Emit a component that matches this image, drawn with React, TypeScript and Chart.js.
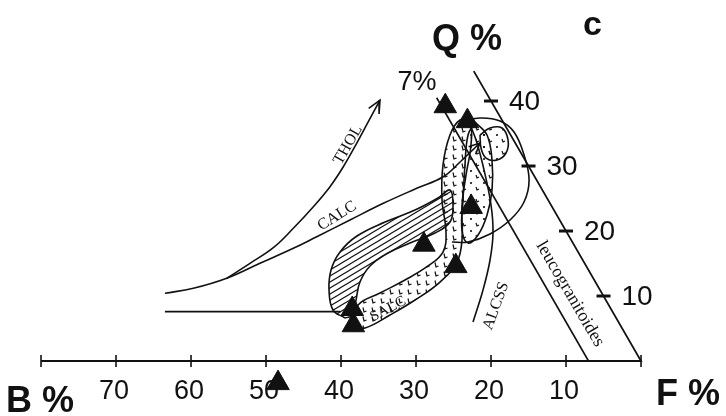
import React, { useEffect, useRef } from 'react';
import { Chart, registerables } from 'chart.js';

Chart.register(...registerables);

// ---- Axis ticks ----
const B_TICKS = [80, 70, 60, 50, 40, 30, 20, 10, 0];
const B_TICK_LABELS = ['', '70', '60', '50', '40', '30', '20', '10', ''];
const Q_TICKS = [40, 30, 20, 10];
const Q_TICK_LABELS = ['40', '30', '20', '10'];

// ---- Samples (B %, Q %) ----
const SAMPLE_B = [6.5, 4.7, 10.8, 20.0, 17.4, 34.5, 35.6, 50.1];
const SAMPLE_Q = [39.2, 36.9, 23.7, 17.9, 14.6, 8.0, 5.5, -3.4];

// ---- Frame and reference lines (B %, Q %) ----
const FRAME: [number, number][] = [[80, 0], [0, 0], [0, 44.6]];
const B7_LINE: [number, number][] = [[7, 0], [7, 40.5]];

// ---- Trends (B %, Q %) ----
const THOL_TREND: [number, number][] = [
  [48.88, 12.72], [44.62, 15.03], [40.31, 17.43], [36.15, 20.42], [31.82, 23.74],
  [28.06, 26.82], [24.75, 29.89], [21.17, 33.49], [17.95, 36.82], [14.73, 40.15],
];
const THOL_ARROW: [number, number][] = [[16.87, 38.88], [14.73, 40.15], [15.93, 38.0]];
const CALC_TREND: [number, number][] = [
  [58.26, 10.42], [54.1, 11.18], [48.88, 12.72], [43.29, 15.03], [37.69, 17.34],
  [33.68, 19.12], [27.96, 21.69], [22.23, 24.26], [16.62, 26.57], [12.19, 28.35],
  [8.82, 30.62], [4.7, 33.54],
];
const CALC_ARROW: [number, number][] = [[6.51, 32.95], [4.7, 33.54], [6.14, 31.82]];
const SALC_BASE: [number, number][] = [[59.68, 7.6], [36.3, 7.6]];
const ALCSS_TREND: [number, number][] = [
  [19.4, 6.0], [15.61, 10.92], [12.36, 15.54], [9.89, 19.69], [8.0, 24.0],
  [6.24, 29.38], [5.0, 34.0], [4.53, 37.08],
];

// ---- Fields (B %, Q %) ----
const HATCH_FIELD: [number, number][] = [
  [36.16, 6.62], [37.15, 7.85], [36.14, 10.92], [34.33, 14.0], [31.75, 16.77],
  [28.26, 19.23], [23.44, 21.38], [18.52, 23.23], [14.53, 25.08], [12.32, 26.31],
  [13.07, 24.0], [14.78, 21.38], [17.63, 19.69], [21.73, 18.15], [25.42, 16.62],
  [28.82, 14.62], [31.4, 12.15], [33.31, 9.38], [34.86, 7.08], [36.16, 6.62],
];
const SALC_BAND: [number, number][] = [
  [36.19, 5.23], [33.42, 8.62], [29.57, 10.46], [25.24, 12.46], [21.09, 14.62],
  [18.02, 16.77], [16.08, 19.85], [14.15, 24.77], [11.33, 30.15], [8.09, 34.77],
  [5.59, 37.08], [4.42, 36.77], [6.06, 33.23], [9.02, 28.62], [11.87, 24.0],
  [14.56, 18.62], [16.92, 15.23], [20.73, 12.15], [25.44, 9.38], [29.93, 7.08],
  [34.26, 5.08], [36.19, 5.23],
];
const RIGHT_FIELD: [number, number][] = [
  [3.75, 36.77], [3.15, 34.77], [4.41, 30.92], [6.71, 26.31], [9.3, 22.46],
  [12.04, 19.38], [13.99, 18.15], [13.8, 20.15], [11.35, 24.77], [8.4, 30.15],
  [5.68, 34.77], [3.75, 36.77],
];
const SMALL_FIELD: [number, number][] = [
  [4.08, 34.77], [2.21, 35.85], [0.61, 35.85], [0.73, 34.0], [2.0, 32.0],
  [3.74, 30.92], [5.05, 31.23], [4.95, 32.77], [4.08, 34.77],
];
const BIG_LOOP: [number, number][] = [
  [5.48, 36.77], [2.78, 37.38], [0.34, 36.92], [-0.68, 35.23], [-0.25, 31.69],
  [1.0, 27.85], [3.37, 24.46], [6.62, 21.69], [10.36, 19.54], [13.91, 18.31], [16.05, 18.31],
];

const INK = '#111';

// ternary (B, Q) -> plot plane
const proj = (b: number, q: number) => ({ x: b + q / 2, y: q });
const toPts = (arr: [number, number][]) => arr.map(([b, q]) => proj(b, q));

function makePattern(ctx: CanvasRenderingContext2D, w: number, h: number, draw: (g: CanvasRenderingContext2D) => void) {
  const c = document.createElement('canvas');
  c.width = w;
  c.height = h;
  const g = c.getContext('2d') as CanvasRenderingContext2D;
  g.strokeStyle = INK;
  g.fillStyle = INK;
  draw(g);
  return ctx.createPattern(c, 'repeat');
}

export default function App() {
  const ref = useRef<HTMLCanvasElement>(null);

  useEffect(() => {
    const canvas = ref.current;
    if (!canvas) return;
    const ctx = canvas.getContext('2d') as CanvasRenderingContext2D;

    const hatch = makePattern(ctx, 10, 6, (g) => {
      g.lineWidth = 1.1;
      for (let k = -1; k <= 1; k++) {
        g.beginPath();
        g.moveTo(k * 10 - 10, 12);
        g.lineTo(k * 10 + 20, -6);
        g.stroke();
      }
    });
    const ladder = makePattern(ctx, 9, 9, (g) => {
      g.lineWidth = 1.2;
      g.beginPath();
      g.moveTo(3, 1.5);
      g.lineTo(4, 6);
      g.lineTo(6.5, 5);
      g.stroke();
    });
    const dots = makePattern(ctx, 13, 12, (g) => {
      g.lineWidth = 1.2;
      g.beginPath();
      g.arc(3, 3, 1.1, 0, Math.PI * 2);
      g.fill();
      g.beginPath();
      g.moveTo(8, 7);
      g.lineTo(9, 10);
      g.lineTo(11, 9);
      g.stroke();
    });

    const line = (arr: [number, number][], tension: number, extra: any = {}) => ({
      data: toPts(arr),
      showLine: true,
      pointRadius: 0,
      borderColor: INK,
      borderWidth: 1.6,
      tension,
      fill: false,
      ...extra,
    });

    const annotate = {
      id: 'annotate',
      beforeDatasetsDraw(chart: any) {
        const { ctx: c, scales } = chart;
        const xs = scales.x;
        const ys = scales.y;
        const P = (b: number, q: number) => {
          const p = proj(b, q);
          return [xs.getPixelForValue(p.x), ys.getPixelForValue(p.y)];
        };
        c.save();
        c.strokeStyle = INK;
        c.fillStyle = INK;
        // bottom ticks
        c.lineWidth = 1.6;
        B_TICKS.forEach((t, i) => {
          const [X, Y] = P(t, 0);
          c.beginPath();
          c.moveTo(X, Y - 6);
          c.lineTo(X, Y + 6);
          c.stroke();
          if (B_TICK_LABELS[i]) {
            c.font = '27px "Liberation Sans", Arial, sans-serif';
            c.textAlign = 'center';
            c.textBaseline = 'alphabetic';
            c.fillText(B_TICK_LABELS[i], X - 2, Y + 38);
          }
        });
        // right ticks
        Q_TICKS.forEach((q, i) => {
          const [X, Y] = P(0, q);
          c.lineWidth = 3;
          c.beginPath();
          c.moveTo(X - 7, Y);
          c.lineTo(X + 7, Y);
          c.stroke();
          c.font = '28px "Liberation Sans", Arial, sans-serif';
          c.textAlign = 'left';
          c.textBaseline = 'middle';
          c.fillText(Q_TICK_LABELS[i], X + 18, Y + 1);
        });
        // big corner labels
        c.textAlign = 'left';
        c.textBaseline = 'alphabetic';
        c.font = 'bold 36px "Liberation Sans", Arial, sans-serif';
        c.fillText('B %', 6, 412);
        c.fillText('F %', 656, 405);
        c.fillText('Q %', 432, 50);
        c.font = 'bold 34px "Liberation Sans", Arial, sans-serif';
        c.fillText('c', 583, 35);
        // 7 %
        c.font = '27px "Liberation Sans", Arial, sans-serif';
        c.textAlign = 'center';
        c.textBaseline = 'middle';
        {
          const [X, Y] = P(8.48, 42.77);
          c.fillText('7%', X, Y);
        }
        // rotated serif labels
        const serif = (txt: string, b: number, q: number, deg: number, size: number) => {
          const [X, Y] = P(b, q);
          c.save();
          c.translate(X, Y);
          c.rotate((deg * Math.PI) / 180);
          c.font = `${size}px "Liberation Serif", "Times New Roman", serif`;
          c.textAlign = 'center';
          c.textBaseline = 'middle';
          c.fillText(txt, 0, 0);
          c.restore();
        };
        serif('THOL', 22.45, 33.23, -60, 16);
        serif('CALC', 29.38, 22.31, -32, 16);
        serif('SALC', 29.73, 8.0, -28, 15);
        serif('ALCSS', 15.1, 8.46, -70, 16);
        serif('leucogranitoides', 4.31, 10.31, 59.7, 18);
        c.restore();
      },
    };

    const chart = new Chart(canvas, {
      type: 'scatter',
      data: {
        datasets: [
          {
            data: SAMPLE_B.map((b, i) => proj(b, SAMPLE_Q[i])),
            pointStyle: 'triangle',
            pointRadius: 13,
            pointHoverRadius: 13,
            backgroundColor: INK,
            borderColor: INK,
            borderWidth: 1,
            showLine: false,
            clip: false,
          },
          line(FRAME, 0, { borderWidth: 1.8 }),
          line(B7_LINE, 0),
          line(THOL_TREND, 0.4),
          line(THOL_ARROW, 0),
          line(CALC_TREND, 0.4),
          line(CALC_ARROW, 0),
          line(SALC_BASE, 0),
          line(ALCSS_TREND, 0.4),
          line(BIG_LOOP, 0.4),
          line(SMALL_FIELD, 0.4, { fill: 'shape', backgroundColor: dots }),
          line(RIGHT_FIELD, 0.4, { fill: 'shape', backgroundColor: dots }),
          line(SALC_BAND, 0.4, { fill: 'shape', backgroundColor: ladder }),
          line(HATCH_FIELD, 0.4, { fill: 'shape', backgroundColor: hatch }),
        ] as any,
      },
      options: {
        animation: false,
        responsive: false,
        events: [],
        layout: { padding: 0, autoPadding: false },
        plugins: { legend: { display: false }, tooltip: { enabled: false } },
        scales: {
          x: { type: 'linear', display: false, reverse: true, min: -11.33, max: 85.47 },
          y: { type: 'linear', display: false, min: -8.46, max: 55.54 },
        },
      },
      plugins: [annotate],
    });
    return () => chart.destroy();
  }, []);

  return (
    <div style={{ position: 'fixed', left: 0, top: 0, width: 726, height: 416, background: '#fff' }}>
      <canvas ref={ref} width={726} height={416} style={{ display: 'block', width: 726, height: 416 }} />
    </div>
  );
}
